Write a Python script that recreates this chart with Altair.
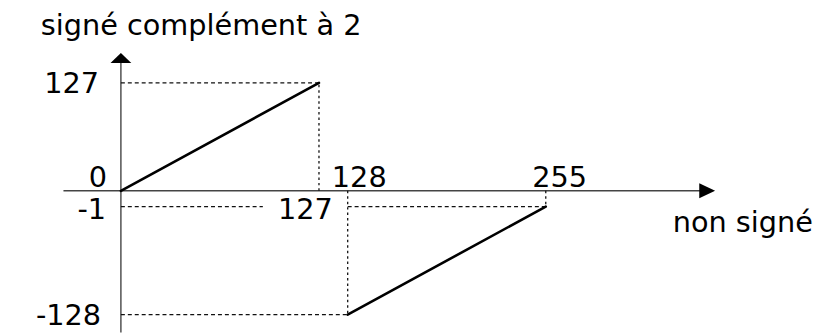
import altair as alt
import pandas as pd

# ---- data -------------------------------------------------------------
# unsigned value (x) -> two's complement signed value (y)
seg1_x = [0, 127]
seg1_y = [0, 127]
seg2_x = [128, 255]
seg2_y = [-128, -1]

# dashed guide lines (x, x2, y, y2)
guide_h = [(0, 127, 127, 127), (0, 91, -1, -1), (128, 255, -1, -1), (0, 128, -128, -128)]
guide_v = [(127, 127, 0, 127), (128, 128, 0, -128), (255, 255, 0, -1)]

# tick labels: (text, x, y, align, baseline, dx, dy)
tick_labels = [
    ("127", 0, 127, "right", "middle", -22, 1),
    ("0", 0, 0, "right", "middle", -14, -13),
    ("-1", 0, -1, "right", "middle", -15, 3),
    ("-128", 0, -128, "right", "middle", -20, 1),
    ("127", 128, -1, "right", "middle", -15, 3),
    ("128", 128, 0, "left", "middle", -16, -13),
    ("255", 255, 0, "center", "middle", 14, -13),
]
x_title = "non signé"
y_title = "signé complément à 2"

# axis extents (schematic, piecewise scale)
x_break = [-37, 0, 127, 128, 255, 360]
y_break = [-150, -128, -1, 0, 127, 150]
x_px = [56, 114, 314, 343, 543, 706]
y_px = [326, 308, 199, 183, 74, 49]

FONT = "DejaVu Sans"
FS = 29

xs = alt.Scale(domain=x_break, range=x_px, zero=False, nice=False)
ys = alt.Scale(domain=y_break, range=y_px, zero=False, nice=False)


def seg_df(rows):
    return pd.DataFrame(rows, columns=["x", "x2", "y", "y2"])


def rules(df, **mk):
    return alt.Chart(df).mark_rule(**mk).encode(
        x=alt.X("x:Q", scale=xs, axis=None),
        x2="x2:Q",
        y=alt.Y("y:Q", scale=ys, axis=None),
        y2="y2:Q",
    )


axes_df = seg_df([(x_break[0], x_break[-1], 0, 0), (0, 0, y_break[0], y_break[-1])])
axes = rules(axes_df, color="#444444", strokeWidth=1.4)

hdash = rules(seg_df(guide_h), color="#111111", strokeWidth=1.3, strokeDash=[4, 3])
vdash = rules(seg_df(guide_v), color="#111111", strokeWidth=1.3, strokeDash=[2.5, 3])

lines_df = seg_df([
    (seg1_x[0], seg1_x[1], seg1_y[0], seg1_y[1]),
    (seg2_x[0], seg2_x[1], seg2_y[0], seg2_y[1]),
])
lines = rules(lines_df, color="black", strokeWidth=2.6, strokeCap="round")

arrow_y = alt.Chart(pd.DataFrame({"x": [0], "y": [y_break[-1]]})).mark_point(
    shape="M0,-0.48L1,0.48L-1,0.48Z", size=441, filled=True, color="black",
    opacity=1, strokeWidth=0,
).encode(x=alt.X("x:Q", scale=xs, axis=None), y=alt.Y("y:Q", scale=ys, axis=None))

arrow_x = alt.Chart(pd.DataFrame({"x": [x_break[-1]], "y": [0]})).mark_point(
    shape="M1,0L-1,-0.94L-1,0.94Z", size=256, filled=True, color="black",
    opacity=1, strokeWidth=0,
).encode(x=alt.X("x:Q", scale=xs, axis=None), y=alt.Y("y:Q", scale=ys, axis=None))

layers = [axes, hdash, vdash, lines, arrow_y, arrow_x]

for txt, tx, ty, al, bl, dx, dy in tick_labels:
    layers.append(
        alt.Chart(pd.DataFrame({"x": [tx], "y": [ty], "t": [txt]})).mark_text(
            align=al, baseline=bl, dx=dx, dy=dy, font=FONT, fontSize=FS, color="black"
        ).encode(
            x=alt.X("x:Q", scale=xs, axis=None),
            y=alt.Y("y:Q", scale=ys, axis=None),
            text="t:N",
        )
    )

layers.append(
    alt.Chart(pd.DataFrame({"x": [x_break[-1]], "y": [0], "t": [x_title]})).mark_text(
        align="center", baseline="alphabetic", dx=36, dy=42, font=FONT, fontSize=FS, color="black"
    ).encode(x=alt.X("x:Q", scale=xs, axis=None), y=alt.Y("y:Q", scale=ys, axis=None), text="t:N")
)
layers.append(
    alt.Chart(pd.DataFrame({"x": [0], "y": [y_break[-1]], "t": [y_title]})).mark_text(
        align="center", baseline="alphabetic", dx=81, dy=-23, font=FONT, fontSize=FS, color="black"
    ).encode(x=alt.X("x:Q", scale=xs, axis=None), y=alt.Y("y:Q", scale=ys, axis=None), text="t:N")
)

chart = alt.layer(*layers).properties(
    width=830, height=326, autosize=alt.AutoSizeParams(type="none"), padding=0,
    background="white",
).configure_view(stroke=None)

chart.save("out.html", embed_options={"renderer": "svg", "actions": False})
